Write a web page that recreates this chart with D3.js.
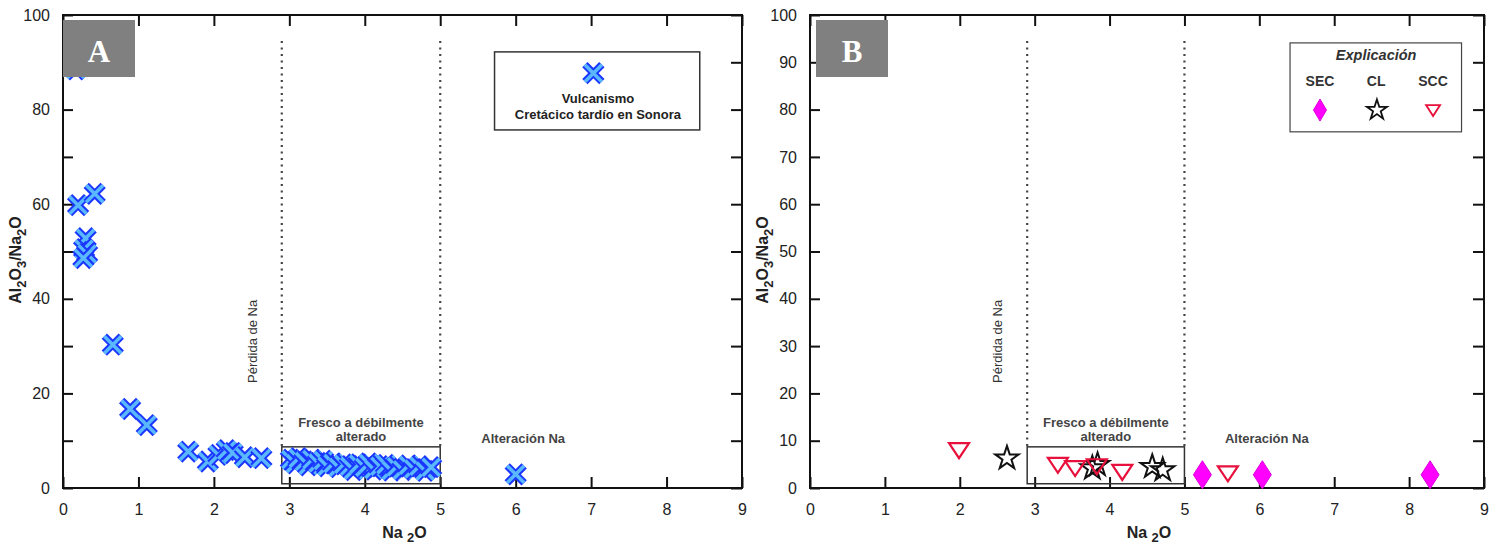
<!DOCTYPE html>
<html>
<head>
<meta charset="utf-8">
<script src="https://cdn.jsdelivr.net/npm/d3@7"></script>
<style>
  body { margin: 0; background: #fff; }
  svg text { font-family: "Liberation Sans", Arial, sans-serif; }
</style>
</head>
<body>
<div id="chart"></div>
<script>
// ---- data ----
let xTicks = [0, 1, 2, 3, 4, 5, 6, 7, 8, 9];
let yTicks = [0, 10, 20, 30, 40, 50, 60, 70, 80, 90, 100];

// Panel A: Vulcanismo Cretácico tardío en Sonora
let volcX = [0.17, 0.20, 0.42, 0.30, 0.28, 0.32, 0.27, 0.66, 0.89, 1.11,
             1.66, 1.92, 2.06, 2.17, 2.25, 2.41, 2.63,
             3.02, 3.08, 3.12, 3.20, 3.25, 3.30, 3.38, 3.45, 3.50, 3.58,
             3.65, 3.72, 3.80, 3.85, 3.92, 4.00, 4.05, 4.12, 4.20, 4.28,
             4.35, 4.42, 4.50, 4.58, 4.65, 4.72, 4.80, 4.88, 6.00];
let volcY = [88.5, 59.8, 62.2, 52.8, 50.5, 49.5, 48.6, 30.3, 16.7, 13.3,
             7.7, 5.6, 7.0, 8.0, 7.4, 6.5, 6.3,
             6.0, 5.2, 6.3, 5.6, 4.8, 6.0, 5.3, 5.8, 4.6, 5.2,
             4.4, 5.0, 4.6, 3.8, 5.0, 4.4, 5.2, 3.9, 4.6, 4.9,
             3.7, 4.5, 3.8, 4.8, 4.0, 4.6, 3.6, 4.4, 2.9];

// Panel B
let secX = [5.24, 6.04, 8.28];
let secY = [2.8, 2.8, 2.8];
let clX = [2.63, 3.77, 3.84, 4.57, 4.71];
let clY = [6.3, 4.2, 4.9, 4.5, 3.8];
let sccX = [1.99, 3.31, 3.54, 3.83, 4.17, 5.58];
let sccY = [8.0, 4.9, 4.2, 4.6, 3.4, 3.1];

let svg = d3.select("#chart")
    .append("svg")
        .attr("width", 1497)
        .attr("height", 547);

let crossPath = "M-8.5,-8.5L8.5,8.5M-8.5,8.5L8.5,-8.5";
let triPath = "M-10,-7L10,-7L0,8Z";
let diaPath = "M0,-14L9,0L0,14L-9,0Z";

function panel(left, right, yLabelAll) {
    let x = d3.scaleLinear().domain([0, 9]).range([left, right]);
    let y = d3.scaleLinear().domain([0, 100]).range([488, 15]);

    // ticks, all pointing inwards
    let bottom = svg.append("g")
        .attr("transform", "translate(0," + y(0) + ")")
        .call(d3.axisBottom(x).tickValues(xTicks).tickSizeInner(-11).tickSizeOuter(0)
            .tickPadding(16).tickFormat(d3.format("d")));
    let top = svg.append("g")
        .attr("transform", "translate(0," + y(100) + ")")
        .call(d3.axisTop(x).tickValues(xTicks).tickSizeInner(-11).tickSizeOuter(0).tickFormat(""));
    let leftAx = svg.append("g")
        .attr("transform", "translate(" + x(0) + ",0)")
        .call(d3.axisLeft(y).tickValues(yTicks).tickSizeInner(-10).tickSizeOuter(0).tickPadding(13)
            .tickFormat(function(d) { return (yLabelAll || d % 20 == 0) ? d : ""; }));
    let rightAx = svg.append("g")
        .attr("transform", "translate(" + x(9) + ",0)")
        .call(d3.axisRight(y).tickValues(yTicks).tickSizeInner(-11).tickSizeOuter(0).tickFormat(""));

    [bottom, top, leftAx, rightAx].forEach(function(g) {
        g.select(".domain").remove();
        g.selectAll(".tick line").attr("stroke", "#111").attr("stroke-width", 2);
        g.selectAll("text").attr("font-size", 16).attr("fill", "#222")
            .style("font-family", "'Liberation Sans', Arial, sans-serif");
    });

    // frame
    svg.append("rect")
        .attr("x", x(0)).attr("y", y(100))
        .attr("width", x(9) - x(0)).attr("height", y(0) - y(100))
        .attr("fill", "none").attr("stroke", "#111").attr("stroke-width", 2);

    // dotted limits + fresh box
    [2.9, 5.0].forEach(function(v) {
        svg.append("line")
            .attr("x1", x(v)).attr("x2", x(v))
            .attr("y1", y(94.5)).attr("y2", y(8.7))
            .attr("stroke", "#444").attr("stroke-width", 2.2)
            .attr("stroke-dasharray", "2,4.5");
    });
    svg.append("rect")
        .attr("x", x(2.9)).attr("y", y(8.7))
        .attr("width", x(5.0) - x(2.9)).attr("height", y(0.9) - y(8.7))
        .attr("fill", "none").attr("stroke", "#333").attr("stroke-width", 1.5);

    // annotations
    svg.append("text")
        .attr("transform", "translate(" + x(2.57) + "," + y(31) + ")rotate(-90)")
        .attr("text-anchor", "middle").attr("font-size", 13).attr("fill", "#333")
        .text("Pérdida de Na");
    svg.append("text")
        .attr("x", x(3.95)).attr("y", y(12.9))
        .attr("text-anchor", "middle").attr("font-size", 13).attr("font-weight", "bold").attr("fill", "#444")
        .text("Fresco a débilmente");
    svg.append("text")
        .attr("x", x(3.95)).attr("y", y(9.9))
        .attr("text-anchor", "middle").attr("font-size", 13).attr("font-weight", "bold").attr("fill", "#444")
        .text("alterado");
    svg.append("text")
        .attr("x", x(6.1)).attr("y", y(9.5))
        .attr("text-anchor", "middle").attr("font-size", 13).attr("font-weight", "bold").attr("fill", "#444")
        .text("Alteración Na");

    // axis titles
    let xt = svg.append("text")
        .attr("x", (x(0) + x(9)) / 2 + 2).attr("y", 538)
        .attr("text-anchor", "middle").attr("font-size", 16).attr("font-weight", "bold").attr("fill", "#222");
    xt.append("tspan").text("Na ");
    xt.append("tspan").attr("dy", 4).attr("font-size", 13).text("2");
    xt.append("tspan").attr("dy", -4).text("O");

    let yt = svg.append("text")
        .attr("transform", "translate(" + (x(0) - 42) + ",260)rotate(-90)")
        .attr("text-anchor", "middle").attr("font-size", 16).attr("font-weight", "bold").attr("fill", "#222");
    yt.append("tspan").text("Al");
    yt.append("tspan").attr("dy", 5).attr("font-size", 13).text("2");
    yt.append("tspan").attr("dy", -5).text("O");
    yt.append("tspan").attr("dy", 5).attr("font-size", 13).text("3");
    yt.append("tspan").attr("dy", -5).text("/Na");
    yt.append("tspan").attr("dy", 5).attr("font-size", 13).text("2");
    yt.append("tspan").attr("dy", -5).text("O");

    return {x: x, y: y};
}

function crossMark(px, py) {
    let g = svg.append("g").attr("transform", "translate(" + px + "," + py + ")");
    g.append("path").attr("d", crossPath).attr("fill", "none")
        .attr("stroke", "#1a36ff").attr("stroke-width", 7.5);
    g.append("path").attr("d", crossPath).attr("fill", "none")
        .attr("stroke", "#5ab8ff").attr("stroke-width", 3.5);
}

function panelLabel(px, letter) {
    svg.append("rect")
        .attr("x", px).attr("y", 20).attr("width", 72).attr("height", 57)
        .attr("fill", "#808080");
    svg.append("text")
        .attr("x", px + 36).attr("y", 62)
        .attr("text-anchor", "middle").attr("font-size", 31).attr("font-weight", "bold")
        .attr("fill", "#fff").style("font-family", "'Liberation Serif', 'Times New Roman', serif")
        .text(letter);
}

// ---- Panel A ----
let A = panel(63, 742, false);

volcX.forEach(function(d, i) { crossMark(A.x(d), A.y(volcY[i])); });

// legend A
svg.append("rect")
    .attr("x", A.x(5.72)).attr("y", A.y(92.2))
    .attr("width", A.x(8.44) - A.x(5.72)).attr("height", A.y(75.7) - A.y(92.2))
    .attr("fill", "#fff").attr("stroke", "#333").attr("stroke-width", 1.5);
crossMark(A.x(7.03), A.y(87.7));
svg.append("text").attr("x", A.x(7.09)).attr("y", A.y(81.4))
    .attr("text-anchor", "middle").attr("font-size", 13).attr("font-weight", "bold").attr("fill", "#222")
    .text("Vulcanismo");
svg.append("text").attr("x", A.x(7.09)).attr("y", A.y(78.0))
    .attr("text-anchor", "middle").attr("font-size", 13).attr("font-weight", "bold").attr("fill", "#222")
    .text("Cretácico tardío en Sonora");

panelLabel(63, "A");

// ---- Panel B ----
let B = panel(810, 1484, true);

let star = d3.symbol().type(d3.symbolStar).size(170);
let starSmall = d3.symbol().type(d3.symbolStar).size(125);

clX.forEach(function(d, i) {
    svg.append("path").attr("d", star())
        .attr("transform", "translate(" + B.x(d) + "," + B.y(clY[i]) + ")")
        .attr("fill", "none").attr("stroke", "#111").attr("stroke-width", 2);
});
sccX.forEach(function(d, i) {
    svg.append("path").attr("d", triPath)
        .attr("transform", "translate(" + B.x(d) + "," + B.y(sccY[i]) + ")")
        .attr("fill", "none").attr("stroke", "#e8103c").attr("stroke-width", 2.2);
});
secX.forEach(function(d, i) {
    svg.append("path").attr("d", diaPath)
        .attr("transform", "translate(" + B.x(d) + "," + B.y(secY[i]) + ")")
        .attr("fill", "#ff00ff").attr("stroke", "#dd00dd").attr("stroke-width", 1);
});

// legend B
svg.append("rect")
    .attr("x", B.x(6.41)).attr("y", B.y(94.1))
    .attr("width", B.x(8.70) - B.x(6.41)).attr("height", B.y(75.3) - B.y(94.1))
    .attr("fill", "#fff").attr("stroke", "#444").attr("stroke-width", 1.2);
svg.append("text").attr("x", B.x(7.56)).attr("y", B.y(90.5))
    .attr("text-anchor", "middle").attr("font-size", 14.5).attr("font-weight", "bold")
    .attr("font-style", "italic").attr("fill", "#333")
    .text("Explicación");
[["SEC", 6.81], ["CL", 7.56], ["SCC", 8.32]].forEach(function(d) {
    svg.append("text").attr("x", B.x(d[1])).attr("y", B.y(85.0))
        .attr("text-anchor", "middle").attr("font-size", 14).attr("font-weight", "bold").attr("fill", "#333")
        .text(d[0]);
});
svg.append("path").attr("d", "M0,-11L6.5,0L0,11L-6.5,0Z")
    .attr("transform", "translate(" + B.x(6.81) + "," + B.y(79.9) + ")")
    .attr("fill", "#ff00ff").attr("stroke", "#dd00dd").attr("stroke-width", 1);
svg.append("path").attr("d", starSmall())
    .attr("transform", "translate(" + B.x(7.57) + "," + B.y(79.9) + ")")
    .attr("fill", "none").attr("stroke", "#111").attr("stroke-width", 1.8);
svg.append("path").attr("d", "M-7,-5L7,-5L0,6Z")
    .attr("transform", "translate(" + B.x(8.32) + "," + B.y(79.9) + ")")
    .attr("fill", "none").attr("stroke", "#e8103c").attr("stroke-width", 1.8);

panelLabel(816, "B");
</script>
</body>
</html>
